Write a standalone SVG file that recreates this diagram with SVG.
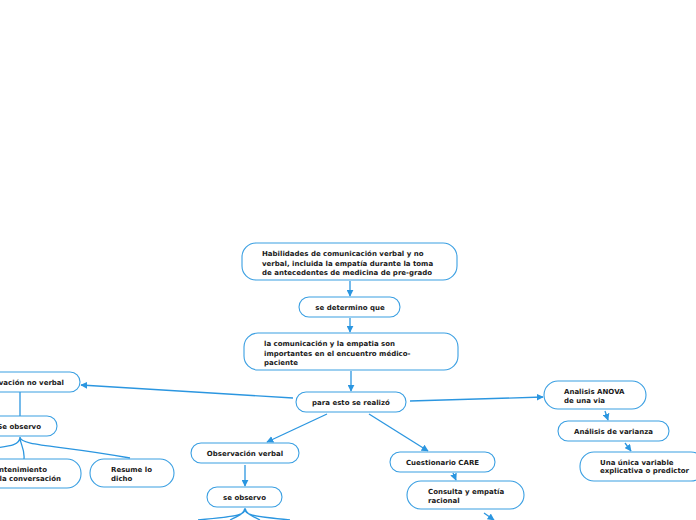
<svg xmlns="http://www.w3.org/2000/svg" width="696" height="520" viewBox="0 0 696 520">
<style>
.b{fill:#fff;stroke:#3a9fe2;stroke-width:1.1}
.t{font-family:"DejaVu Sans",Verdana,sans-serif;font-weight:bold;font-size:7px;fill:#1a1a1a}
.c{text-anchor:middle}
.e{text-anchor:end}
.l{fill:none;stroke:#2b96e0;stroke-width:1.3}
</style>
<defs>
<marker id="a" viewBox="0 0 10 10" refX="9" refY="5" markerWidth="7" markerHeight="7" markerUnits="userSpaceOnUse" orient="auto"><path d="M0,0L10,5L0,10z" fill="#2b96e0"/></marker>
</defs>
<rect width="696" height="520" fill="#fff"/>
<g id="connectors">
<path class="l" d="M350,281V296" marker-end="url(#a)"/>
<path class="l" d="M350,318V332" marker-end="url(#a)"/>
<path class="l" d="M351,371V391" marker-end="url(#a)"/>
<path class="l" d="M293,398L81,385" marker-end="url(#a)"/>
<path class="l" d="M327,414L267,442" marker-end="url(#a)"/>
<path class="l" d="M369,414L428,451" marker-end="url(#a)"/>
<path class="l" d="M410,401L543,397" marker-end="url(#a)"/>
<path class="l" d="M245,465V486" marker-end="url(#a)"/>
<path class="l" d="M245,508C245,515 240,516 198,520M245,508C245,515 250,516 290,520M245,508C244,514 238,516 230,520M245,508C246,514 252,516 260,520"/>
<path class="l" d="M20,392V416"/>
<path class="l" d="M20,437C20,445 10,446 -5,448M20,437C20,445 25,448 24,459M20,437C20,446 60,445 130,458"/>
<path class="l" d="M453,473L456,480" marker-end="url(#a)"/>
<path class="l" d="M484,513L494,520" marker-end="url(#a)"/>
<path class="l" d="M605,411L608,420" marker-end="url(#a)"/>
<path class="l" d="M625,443L631,451" marker-end="url(#a)"/>
</g>
<g id="n1"><rect class="b" x="242" y="243" width="215" height="37" rx="14"/>
<text class="t" x="262" y="256">Habilidades de comunicación verbal y no</text>
<text class="t" x="262" y="265.5">verbal, incluida la empatía durante la toma</text>
<text class="t" x="262" y="275">de antecedentes de medicina de pre-grado</text></g>
<g id="n2"><rect class="b" x="299" y="297" width="101" height="20" rx="10"/>
<text class="t c" x="350" y="310">se determino que</text></g>
<g id="n3"><rect class="b" x="244" y="333" width="214" height="37" rx="14"/>
<text class="t" x="264" y="346">la comunicación y la empatia son</text>
<text class="t" x="264" y="355.5">importantes en el encuentro médico-</text>
<text class="t" x="264" y="365">paciente</text></g>
<g id="n4"><rect class="b" x="296" y="392" width="110" height="20" rx="10"/>
<text class="t c" x="351" y="405">para esto se realizó</text></g>
<g id="n5"><rect class="b" x="-50" y="372" width="130" height="20" rx="10"/>
<text class="t e" x="64" y="385">Observación no verbal</text></g>
<g id="n6"><rect class="b" x="-18" y="416" width="75" height="20" rx="10"/>
<text class="t e" x="41" y="429">Se observo</text></g>
<g id="n7"><rect class="b" x="-40" y="459" width="121" height="29" rx="14"/>
<text class="t e" x="47" y="471.5">Mantenimiento</text>
<text class="t e" x="61" y="481">de la conversación</text></g>
<g id="n8"><rect class="b" x="90" y="459" width="84" height="28" rx="14"/>
<text class="t" x="111" y="471.5">Resume lo</text>
<text class="t" x="111" y="481">dicho</text></g>
<g id="n9"><rect class="b" x="191" y="443" width="108" height="20" rx="10"/>
<text class="t c" x="245" y="455.5">Observación verbal</text></g>
<g id="n10"><rect class="b" x="207" y="487" width="75" height="20" rx="10"/>
<text class="t c" x="244.5" y="500">se observo</text></g>
<g id="n11"><rect class="b" x="390" y="452" width="105" height="20" rx="10"/>
<text class="t c" x="442.5" y="465">Cuestionario CARE</text></g>
<g id="n12"><rect class="b" x="407" y="481" width="117" height="28" rx="14"/>
<text class="t" x="428" y="493.5">Consulta y empatía</text>
<text class="t" x="428" y="502.5">racional</text></g>
<g id="n13"><rect class="b" x="544" y="381" width="102" height="28" rx="14"/>
<text class="t" x="564" y="393.5">Analisis ANOVA</text>
<text class="t" x="564" y="403">de una via</text></g>
<g id="n14"><rect class="b" x="558" y="421" width="111" height="20" rx="10"/>
<text class="t c" x="613.5" y="434">Análisis de varianza</text></g>
<g id="n15"><rect class="b" x="580" y="452" width="125" height="29" rx="14"/>
<text class="t" x="600" y="464.5">Una única variable</text>
<text class="t" x="600" y="473">explicativa o predictor</text></g>
</svg>
